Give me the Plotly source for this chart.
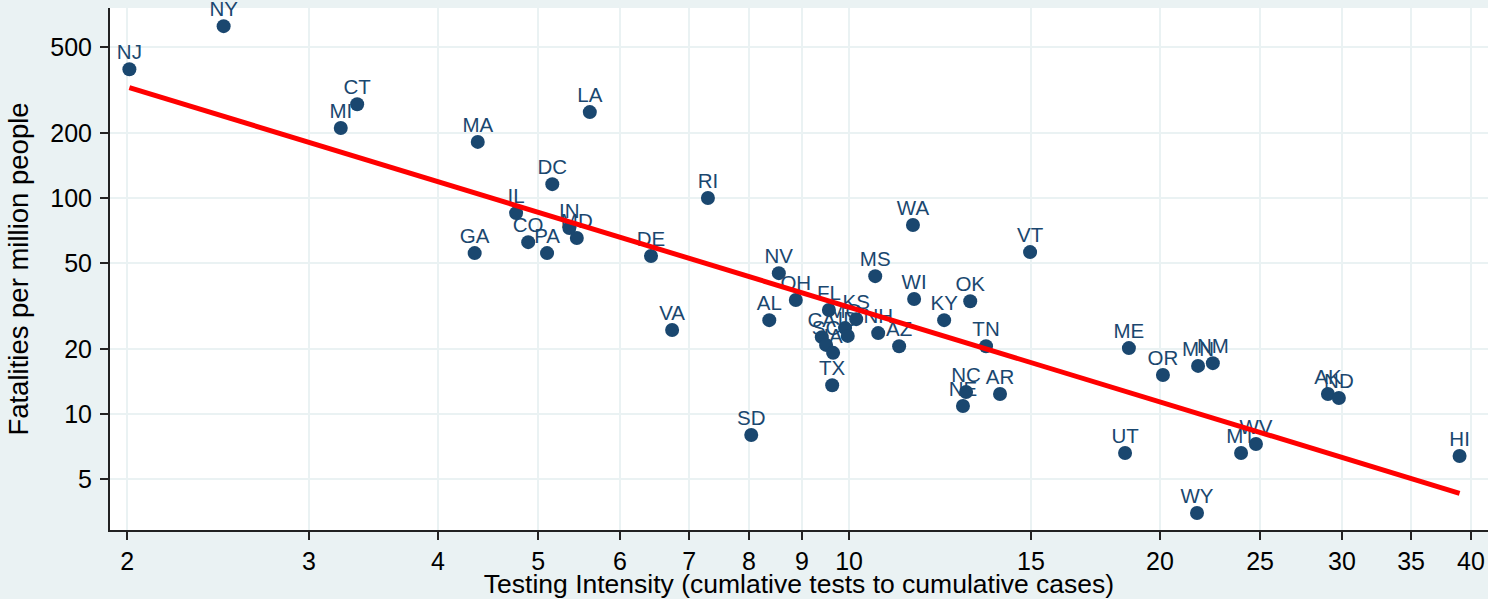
import numpy as np
import plotly.graph_objects as go

states = ["NJ", "NY", "CT", "MI", "MA", "GA", "LA", "DC", "IL", "CO", "PA", "IN", "MD",
          "DE", "RI", "VA", "SD", "NV", "OH", "AL", "WA", "MS", "WI", "OK", "KY", "TN",
          "VT", "NC", "NE", "AR", "ME", "OR", "MN", "NM", "UT", "WY", "MT", "WV", "AK",
          "ND", "HI", "TX", "FL", "KS", "NH", "AZ", "CA", "SC", "IA", "MO", "ID"]
testing_intensity = [2.01, 2.48, 3.34, 3.22, 4.37, 4.34, 5.61, 5.16, 4.76, 4.89, 5.10, 5.36, 5.45,
                     6.43, 7.30, 6.74, 8.04, 8.55, 8.88, 8.37, 11.53, 10.6, 11.56, 13.1, 12.36, 13.57,
                     14.97, 12.98, 12.89, 14.0, 18.66, 20.13, 21.77, 22.5, 18.5, 21.72, 23.96, 24.77, 29.08,
                     29.8, 39.0, 9.63, 9.56, 10.16, 10.67, 11.18, 9.41, 9.50, 9.65, 9.91, 9.97]
fatalities_per_million = [395, 625, 272, 211, 182, 55.6, 250, 116, 85.2, 62.5, 55.6, 72.6, 65.3,
                          53.9, 100, 24.5, 7.99, 44.9, 33.7, 27.2, 75.0, 43.5, 34.1, 33.3, 27.2, 20.6,
                          56.2, 12.64, 10.89, 12.37, 20.2, 15.15, 16.7, 17.2, 6.60, 3.48, 6.60, 7.26, 12.37,
                          11.86, 6.39, 13.6, 30.3, 27.5, 23.7, 20.6, 22.7, 20.9, 19.2, 25.0, 23.0]

x_ticks = [2, 3, 4, 5, 6, 7, 8, 9, 10, 15, 20, 25, 30, 35, 40]
y_ticks = [5, 10, 20, 50, 100, 200, 500]

NAVY = "#1a476f"
BG = "#eaf2f3"
FONT = "Liberation Sans, Arial, Helvetica, sans-serif"

lx = np.log10(testing_intensity)
ly = np.log10(fatalities_per_million)
slope, intercept = np.polyfit(lx, ly, 1)
fit_x = np.array([min(testing_intensity), max(testing_intensity)])
fit_y = 10 ** (intercept + slope * np.log10(fit_x))

fig = go.Figure()
fig.add_trace(go.Scatter(
    x=testing_intensity, y=fatalities_per_million,
    mode="markers", marker=dict(size=14, color=NAVY),
    cliponaxis=False, showlegend=False, hoverinfo="skip",
))
fig.add_trace(go.Scatter(
    x=testing_intensity, y=fatalities_per_million, text=states,
    mode="markers+text", textposition="top center",
    textfont=dict(family=FONT, size=20.5, color=NAVY),
    marker=dict(size=6, color="rgba(0,0,0,0)"),
    cliponaxis=False, showlegend=False, hoverinfo="text",
))
fig.add_trace(go.Scatter(
    x=fit_x, y=fit_y, mode="lines",
    line=dict(color="#ff0000", width=5),
    showlegend=False, hoverinfo="skip",
))

axis_common = dict(
    type="log", showgrid=True, gridcolor=BG, gridwidth=2,
    showline=True, linecolor="#222222", linewidth=2,
    ticks="outside", ticklen=8, tickwidth=2, tickcolor="#222222",
    tickfont=dict(family=FONT, size=25, color="black"),
    zeroline=False,
)

fig.update_layout(
    width=1488, height=599,
    paper_bgcolor=BG, plot_bgcolor="white",
    margin=dict(l=110, r=0, t=8, b=69, autoexpand=False),
    font=dict(family=FONT, color="black"),
    xaxis=dict(
        **axis_common,
        range=[np.log10(1.925), np.log10(41.55)],
        tickvals=x_ticks, ticktext=[str(v) for v in x_ticks],
        automargin=False,
        title=dict(text="Testing Intensity (cumlative tests to cumulative cases)",
                   font=dict(family=FONT, size=26.5, color="black"), standoff=0),
    ),
    yaxis=dict(
        **axis_common,
        range=[0.463, 2.880],
        tickvals=y_ticks, ticktext=[str(v) for v in y_ticks],
        ticklabelstandoff=3,
        automargin=False,
        title=dict(text="Fatalities per million people",
                   font=dict(family=FONT, size=27.5, color="black"), standoff=14),
    ),
)

fig.write_html(
    "out.html",
    config={"displayModeBar": False},
    post_script="document.body.style.margin='0';document.body.style.background='#eaf2f3';"
                "window.dispatchEvent(new Event('resize'));",
)
